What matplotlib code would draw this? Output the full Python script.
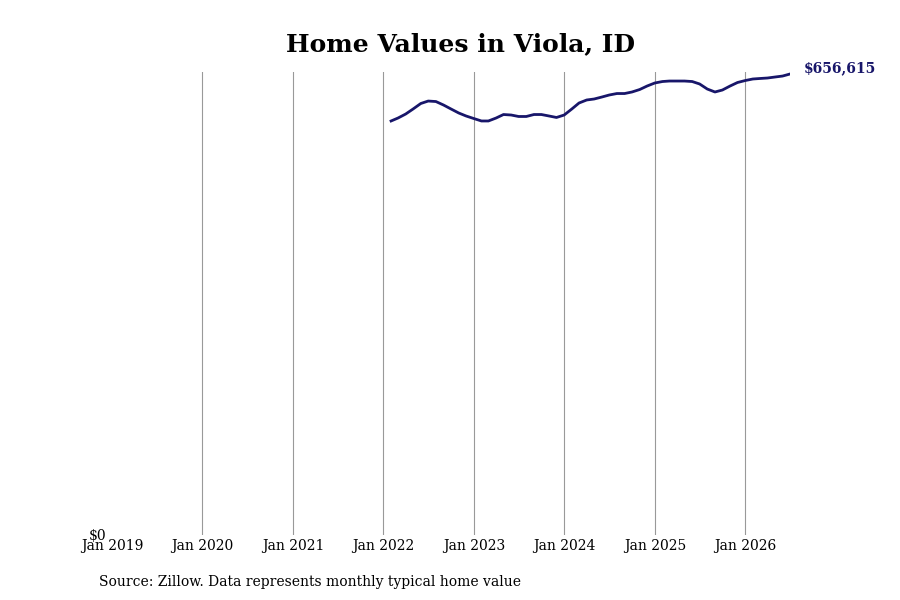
import matplotlib
import pandas as pd
from matplotlib import pyplot as plt
import matplotlib.dates as mdates

matplotlib.use("Agg")

# monthly typical home value, Feb 2022 .. Jul 2026
start_month = "2022-02-01"
home_values = [
    589700, 593900, 599600, 606800, 614600, 618100, 617400, 612400, 606800, 601100,
    596800, 593200, 589700, 589700, 593900, 598900, 598200, 596100, 596100, 598900,
    598900, 596800, 594700, 598200, 606800, 615300, 619600, 621000, 623800, 626700,
    628800, 628800, 631000, 634500, 639500, 643800, 645900, 646600, 646600, 646600,
    645900, 642400, 635200, 631000, 633800, 639500, 644500, 647300, 649500, 650200,
    650900, 652300, 653700, 656615,
]
dates = pd.date_range(start_month, periods=len(home_values), freq="MS")
tick_years = list(range(2019, 2027))
title = "Home Values in Viola, ID"
source = "Source: Zillow. Data represents monthly typical home value"

line_color = "#18166a"

plt.rcParams["font.family"] = ["DejaVu Serif"]

fig = plt.figure(figsize=(9, 6), dpi=100)
ax = fig.add_axes([112 / 900, 1 - 535 / 600, (790 - 112) / 900, (535 - 72) / 600])

ax.plot(dates, home_values, color=line_color, lw=2)

ax.set_xlim(pd.Timestamp("2019-01-01"), dates[-1])
ax.set_ylim(0, home_values[-1] * 463 / 461)

ax.set_xticks([pd.Timestamp(f"{y}-01-01") for y in tick_years])
ax.xaxis.set_major_formatter(mdates.DateFormatter("Jan %Y"))
ax.set_yticks([0])
ax.set_yticklabels(["$0"])
ax.tick_params(axis="both", length=0, labelsize=10)
ax.tick_params(axis="x", pad=3)
ax.tick_params(axis="y", pad=4)

for s in ax.spines.values():
    s.set_visible(False)
ax.grid(axis="x", color="#999999", lw=0.8)
ax.get_xgridlines()[0].set_visible(False)  # no line at the left edge
ax.set_axisbelow(True)

ax.annotate(f"${home_values[-1]:,}", xy=(dates[-1], home_values[-1]),
            xytext=(10, 4), textcoords="offset points",
            color=line_color, fontsize=10, fontweight="bold", va="center", ha="left")

fig.text(461 / 900, 1 - 44 / 600, title, ha="center", va="center",
         fontsize=18, fontweight="bold")
fig.text(99 / 900, 1 - 582 / 600, source, ha="left", va="center", fontsize=10)

fig.savefig("out.png", dpi=100)
